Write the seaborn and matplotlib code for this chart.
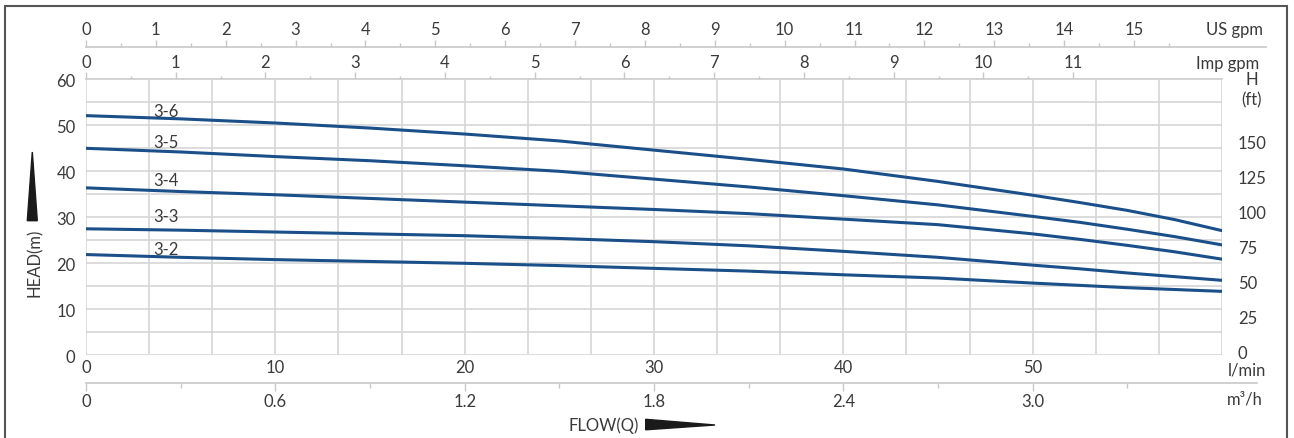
import numpy as np
import pandas as pd
import matplotlib.pyplot as plt
import seaborn as sns
from matplotlib.patches import Polygon, Rectangle
from matplotlib.transforms import ScaledTranslation

# flow in l/min, head in m
flow = [0, 5, 10, 15, 20, 25, 30, 35, 40, 45, 50, 52.5, 55, 57.5, 60]
head_3_2 = [21.9, 21.3, 20.8, 20.4, 20.0, 19.5, 18.9, 18.3, 17.5, 16.8, 15.7, 15.2, 14.7, 14.3, 13.9]
head_3_3 = [27.5, 27.2, 26.8, 26.4, 26.0, 25.4, 24.7, 23.8, 22.6, 21.3, 19.6, 18.8, 17.9, 17.1, 16.3]
head_3_4 = [36.4, 35.6, 34.9, 34.1, 33.3, 32.5, 31.7, 30.8, 29.6, 28.4, 26.4, 25.2, 23.9, 22.5, 20.9]
head_3_5 = [45.0, 44.2, 43.2, 42.3, 41.2, 40.0, 38.3, 36.6, 34.7, 32.7, 30.2, 28.9, 27.4, 25.8, 24.0]
head_3_6 = [52.1, 51.4, 50.5, 49.4, 48.1, 46.6, 44.6, 42.6, 40.5, 37.8, 34.8, 33.2, 31.5, 29.5, 27.1]
models = ['3-2', '3-3', '3-4', '3-5', '3-6']
label_x = 4.2
label_y = [23.1, 30.2, 38.0, 46.3, 53.2]

# unit scales as drawn on the chart
LPM_PER_USGPM = 3.69
LPM_PER_IMPGPM = 4.74
M3H_PER_LPM = 0.06
FT_PER_M = 3.28084

BLUE = '#1b4f8a'
GRID = '#d6d6d6'
AXLINE = '#c8c8c8'
TEXT = '#3a3a3a'

df = pd.DataFrame({
    'flow': flow * 5,
    'head': head_3_2 + head_3_3 + head_3_4 + head_3_5 + head_3_6,
    'model': [m for m in models for _ in flow],
})

sns.set_theme(style='white')
plt.rcParams['font.family'] = ['Lato', 'DejaVu Sans']
plt.rcParams['text.color'] = TEXT

W, H = 1294, 439
fig = plt.figure(figsize=(W / 100, H / 100), dpi=100)


def fx(px):
    return px / W


def fy(py):
    return 1 - py / H


x0, x1, y0, y1 = 86, 1222, 80.3, 356.3
ax = fig.add_axes([fx(x0), fy(y1), fx(x1) - fx(x0), fy(y0) - fy(y1)])
sns.lineplot(data=df, x='flow', y='head', hue='model', palette=[BLUE] * 5,
             linewidth=2.2, legend=False, ax=ax)
ax.set_xlim(0, 60)
ax.set_ylim(0, 60)
ax.set_xlabel('')
ax.set_ylabel('')

ax.set_xticks(range(0, 61, 10), labels=['0', '10', '20', '30', '40', '50', ''])
ax.set_xticks(np.linspace(0, 60, 19), minor=True)
ax.set_yticks(range(0, 61, 10))
ax.set_yticks(range(0, 61, 5), minor=True)
ax.grid(which='both', color=GRID, lw=1.2)
ax.set_axisbelow(True)
for s in ax.spines.values():
    s.set_visible(False)
ax.tick_params(axis='x', which='both', length=0, pad=3, labelsize=12, labelcolor=TEXT)
ax.tick_params(axis='y', which='major', length=4.5, width=1, color=GRID, pad=3,
               labelsize=12, labelcolor=TEXT)
ax.tick_params(axis='y', which='minor', length=2.5, width=1, color=GRID)

for name, ly in zip(models, label_y):
    ax.text(label_x, ly, name, ha='center', va='center', fontsize=12, color=TEXT)

# right: feet
ft = ax.secondary_yaxis('right', functions=(lambda m: m * FT_PER_M, lambda f: f / FT_PER_M))
ft.set_yticks(range(0, 151, 25))
ft.tick_params(length=0, pad=11.5, labelsize=12, labelcolor=TEXT)
ft.spines['right'].set_visible(False)
shift_up = ScaledTranslation(0, 3.5 / 100, fig.dpi_scale_trans)
for lab in ft.get_yticklabels():
    lab.set_transform(lab.get_transform() + shift_up)

# top: Imp gpm
imp = ax.secondary_xaxis('top', functions=(lambda q: q / LPM_PER_IMPGPM,
                                           lambda g: g * LPM_PER_IMPGPM))
imp.set_xticks(range(0, 12))
imp.set_xticks(np.arange(0.5, 11, 1), minor=True)
imp.tick_params(which='major', length=5, width=1, color=AXLINE, pad=2,
                labelsize=12, labelcolor=TEXT)
imp.tick_params(which='minor', length=2.3, width=1, color=AXLINE)
imp.spines['top'].set_color(AXLINE)
imp.spines['top'].set_linewidth(1.2)

# top: US gpm
us = ax.secondary_xaxis(1 + (y0 - 48) / (y1 - y0),
                        functions=(lambda q: q / LPM_PER_USGPM, lambda g: g * LPM_PER_USGPM))
us.set_xticks(range(0, 16))
us.set_xticks(np.arange(0.5, 16, 1), minor=True)
us.tick_params(which='major', length=5, width=1, color=AXLINE, pad=2,
               labelsize=12, labelcolor=TEXT)
us.tick_params(which='minor', length=2.6, width=1, color=AXLINE)
us.spines['top'].set_color(AXLINE)
us.spines['top'].set_linewidth(1.2)
us.spines['top'].set_bounds(0, 62.3 / LPM_PER_USGPM)

# bottom: m3/h
m3h = ax.secondary_xaxis(-(384 - y1) / (y1 - y0),
                         functions=(lambda q: q * M3H_PER_LPM, lambda v: v / M3H_PER_LPM))
m3h.set_xticks([0, 0.6, 1.2, 1.8, 2.4, 3.0], labels=['0', '0.6', '1.2', '1.8', '2.4', '3.0'])
m3h.set_xticks([0.3, 0.9, 1.5, 2.1, 2.7, 3.3], minor=True)
m3h.tick_params(which='major', length=5.5, width=1, color=AXLINE, pad=2,
                labelsize=12, labelcolor=TEXT)
m3h.tick_params(which='minor', length=3.8, width=1, color=AXLINE)
m3h.spines['bottom'].set_color(AXLINE)
m3h.spines['bottom'].set_linewidth(1.2)
m3h.spines['bottom'].set_bounds(0, 3.71)

# unit labels
fig.text(fx(1263), fy(30), 'US gpm', ha='right', va='center', fontsize=12)
fig.text(fx(1259), fy(64), 'Imp gpm', ha='right', va='center', fontsize=12)
fig.text(fx(1252), fy(80), 'H', ha='center', va='center', fontsize=12)
fig.text(fx(1252), fy(100), '(ft)', ha='center', va='center', fontsize=12)
fig.text(fx(1247), fy(370), 'l/min', ha='center', va='center', fontsize=12)
fig.text(fx(1245), fy(400), 'm³/h', ha='center', va='center', fontsize=12)
fig.text(fx(604), fy(426), 'FLOW(Q)', ha='center', va='center', fontsize=12)
fig.text(fx(35), fy(262.5), 'HEAD(m)', rotation=90, ha='center', va='center', fontsize=12)

# arrow wedges
fig.patches.append(Polygon([(fx(27.3), fy(221.7)), (fx(37.3), fy(221.7)), (fx(32.3), fy(153))],
                           closed=True, transform=fig.transFigure, color='#1a1a1a'))
fig.patches.append(Polygon([(fx(645.7), fy(420.3)), (fx(645.7), fy(430.8)), (fx(715), fy(426))],
                           closed=True, transform=fig.transFigure, color='#1a1a1a'))

# outer frame
fig.patches.append(Rectangle((fx(5), -0.05), fx(1287) - fx(5), fy(6.7) + 0.05, fill=False,
                             ec='#555555', lw=1.5, transform=fig.transFigure))

fig.savefig('out.png', dpi=100)
